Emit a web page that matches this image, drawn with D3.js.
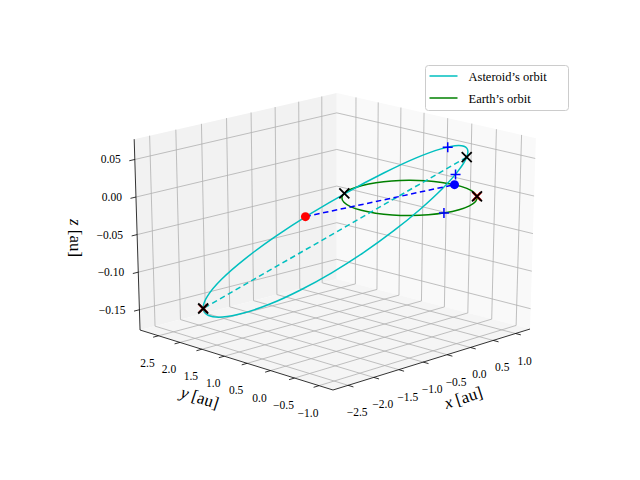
<!DOCTYPE html><html><head><script src="https://cdn.jsdelivr.net/npm/d3@7"></script></head><body style="margin:0;background:#fff"><svg width="640" height="480" font-family="Liberation Serif, DejaVu Serif, serif"></svg><script>
const xTicks=[-2.5,-2.0,-1.5,-1.0,-0.5,0.0,0.5,1.0];
const yTicks=[-1.0,-0.5,0.0,0.5,1.0,1.5,2.0,2.5];
const zTicks=[-0.15,-0.10,-0.05,0.00,0.05];
const earthOrbit=[[1,0,0],[0.966,0.259,0],[0.866,0.5,0],[0.707,0.707,0],[0.5,0.866,0],[0.259,0.966,0],[0,1,0],[-0.259,0.966,0],[-0.5,0.866,0],[-0.707,0.707,0],[-0.866,0.5,0],[-0.966,0.259,0],[-1,0,0],[-0.966,-0.259,0],[-0.866,-0.5,0],[-0.707,-0.707,0],[-0.5,-0.866,0],[-0.259,-0.966,0],[0,-1,0],[0.259,-0.966,0],[0.5,-0.866,0],[0.707,-0.707,0],[0.866,-0.5,0],[0.966,-0.259,0]];
const astOrbit=[[0.918,-0.288,0.043],[1.196,0.137,0.0136],[1.304,0.564,-0.0186],[1.236,0.964,-0.0511],[0.997,1.309,-0.0819],[0.603,1.577,-0.1089],[0.079,1.749,-0.1302],[-0.537,1.813,-0.1443],[-1.205,1.765,-0.1505],[-1.876,1.608,-0.1479],[-2.508,1.354,-0.1372],[-3.056,1.018,-0.1188],[-3.484,0.624,-0.094],[-3.762,0.199,-0.0646],[-3.870,-0.228,-0.0324],[-3.802,-0.628,0.0001],[-3.563,-0.973,0.0309],[-3.169,-1.241,0.0579],[-2.645,-1.413,0.0792],[-2.029,-1.477,0.0933],[-1.362,-1.429,0.0995],[-0.690,-1.272,0.0969],[-0.058,-1.018,0.0862],[0.490,-0.682,0.0678]];
const perihelion=[0.918,-0.288,0.043],aphelion=[-3.484,0.624,-0.094];
const asteroidPos=[-3.228,-1.210,0.055],earthPos=[1.0,0.026,0];
const plusMarks=[[-0.473,-1.198,0.094],[1.231,0.223,0.007],[-0.276,-0.961,0]];
const blackX=[perihelion,aphelion,[-0.508,0.862,0],[0.731,-0.682,0]];
const redX=[aphelion,[0.731,-0.682,0]];
const legendItems=["Asteroid\u2019s orbit","Earth\u2019s orbit"],legendColors=["#00bfbf","#008000"];

const xs=d3.scaleLinear([-2.79,1.33],[0,1]),ys=d3.scaleLinear([-1.28,2.94],[0,1]),zs=d3.scaleLinear([-0.177,0.077],[0,1]);
function projU(u,v,w){const D=1+0.099*(u+v);let X=(333+249.5*u-179.1*v)/D;X=335+(X-335)*(1+0.03*w);const Y=(393-28.1*u-27*v)/D-196*w/(1+0.027*(u+v))-3;return[X,Y];}
const proj=(x,y,z)=>projU(xs(x),ys(y),zs(z));
const svg=d3.select("svg");
const P=(pts)=>"M"+pts.map(p=>projU(...p).join(",")).join("L")+"Z";
svg.append("path").attr("d",P([[0,1,0],[1,1,0],[1,1,1],[0,1,1]])).attr("fill","#f2f2f2");
svg.append("path").attr("d",P([[1,0,0],[1,1,0],[1,1,1],[1,0,1]])).attr("fill","#f9f9f9");
svg.append("path").attr("d",P([[0,0,0],[1,0,0],[1,1,0],[0,1,0]])).attr("fill","#f5f5f5");
const g=svg.append("g").attr("stroke","#b0b0b0").attr("stroke-width",0.8);
const seg=(a,b,sel=g)=>sel.append("path").attr("d","M"+projU(...a)+"L"+projU(...b));
xTicks.forEach(t=>{const u=xs(t);seg([u,0,0],[u,1,0]);seg([u,1,0],[u,1,1]);});
yTicks.forEach(t=>{const v=ys(t);seg([0,v,0],[1,v,0]);seg([1,v,0],[1,v,1]);});
zTicks.forEach(t=>{const w=zs(t);seg([0,1,w],[1,1,w]);seg([1,1,w],[1,0,w]);});
const ax=svg.append("g").attr("stroke","#000").attr("stroke-width",0.8);
seg([0,0,0],[1,0,0],ax);seg([0,0,0],[0,1,0],ax);seg([0,1,0],[0,1,1],ax);
const lab=svg.append("g").attr("font-size",11.5).attr("fill","#000");
const fmt=(v,d)=>(v<0?"\u2212":"")+Math.abs(v).toFixed(d);
xTicks.forEach(t=>{const u=xs(t);seg([u,0,0],[u,-0.025,0],ax);const p=projU(u,0,0);lab.append("text").attr("x",p[0]+9).attr("y",p[1]+31).attr("text-anchor","middle").text(fmt(t,1));});
yTicks.forEach(t=>{const v=ys(t);seg([0,v,0],[-0.025,v,0],ax);const p=projU(0,v,0);lab.append("text").attr("x",p[0]-11).attr("y",p[1]+31).attr("text-anchor","middle").text(fmt(t,1));});
zTicks.forEach(t=>{const w=zs(t);seg([0,1,w],[-0.025,1,w],ax);const p=projU(0,1,w);lab.append("text").attr("x",p[0]-14).attr("y",p[1]+4).attr("text-anchor","end").text(fmt(t,2));});
function axLabel(x,y,rot,v){const t=svg.append("text").attr("transform",`translate(${x},${y}) rotate(${rot})`).attr("text-anchor","middle").attr("font-size",17);t.append("tspan").attr("font-style","italic").text(v);t.append("tspan").text(" [au]");}
axLabel(465,403,-18,"x");axLabel(198,403,18,"y");axLabel(70,238,90,"z");
const line=d3.line().x(d=>proj(...d)[0]).y(d=>proj(...d)[1]).curve(d3.curveCardinalClosed);
const l2=d3.line().x(d=>proj(...d)[0]).y(d=>proj(...d)[1]);
svg.append("path").attr("d",line(earthOrbit)).attr("fill","none").attr("stroke",legendColors[1]).attr("stroke-width",1.5);
svg.append("path").attr("d",line(astOrbit)).attr("fill","none").attr("stroke",legendColors[0]).attr("stroke-width",1.5);
svg.append("path").attr("d",l2([perihelion,aphelion])).attr("fill","none").attr("stroke",legendColors[0]).attr("stroke-width",1.5).attr("stroke-dasharray","5.5,3.5");
svg.append("path").attr("d",l2([asteroidPos,earthPos])).attr("fill","none").attr("stroke","#0000ff").attr("stroke-width",1.5).attr("stroke-dasharray","5.5,3.5");
const xPath=(p,s)=>{const q=proj(...p);return `M${q[0]-s},${q[1]-s}L${q[0]+s},${q[1]+s}M${q[0]-s},${q[1]+s}L${q[0]+s},${q[1]-s}`;};
const pPath=(p,s)=>{const q=proj(...p);return `M${q[0]-s},${q[1]}L${q[0]+s},${q[1]}M${q[0]},${q[1]-s}L${q[0]},${q[1]+s}`;};
[asteroidPos].forEach(p=>{const s=proj(...p);svg.append("circle").attr("cx",s[0]).attr("cy",s[1]).attr("r",4.5).attr("fill","#ff0000");});
[earthPos].forEach(p=>{const s=proj(...p);svg.append("circle").attr("cx",s[0]).attr("cy",s[1]).attr("r",4.5).attr("fill","#0000ff");});
plusMarks.forEach(p=>svg.append("path").attr("d",pPath(p,5)).attr("stroke","#0000ff").attr("stroke-width",1.5));
redX.forEach(p=>svg.append("path").attr("d",xPath(p,4)).attr("stroke","#ff0000").attr("stroke-width",2.2));
blackX.forEach(p=>svg.append("path").attr("d",xPath(p,5)).attr("stroke","#000").attr("stroke-width",1.8));
const lg=svg.append("g").attr("transform","translate(425.5,65.5)");
lg.append("rect").attr("width",143).attr("height",45).attr("rx",3).attr("fill","#fff").attr("fill-opacity",0.8).attr("stroke","#ccc");
legendItems.forEach((t,i)=>{lg.append("line").attr("x1",4).attr("x2",32).attr("y1",10.5+i*22).attr("y2",10.5+i*22).attr("stroke",legendColors[i]).attr("stroke-width",1.5);lg.append("text").attr("x",43).attr("y",15+i*22).attr("font-size",12.5).text(t);});
</script></body></html>
